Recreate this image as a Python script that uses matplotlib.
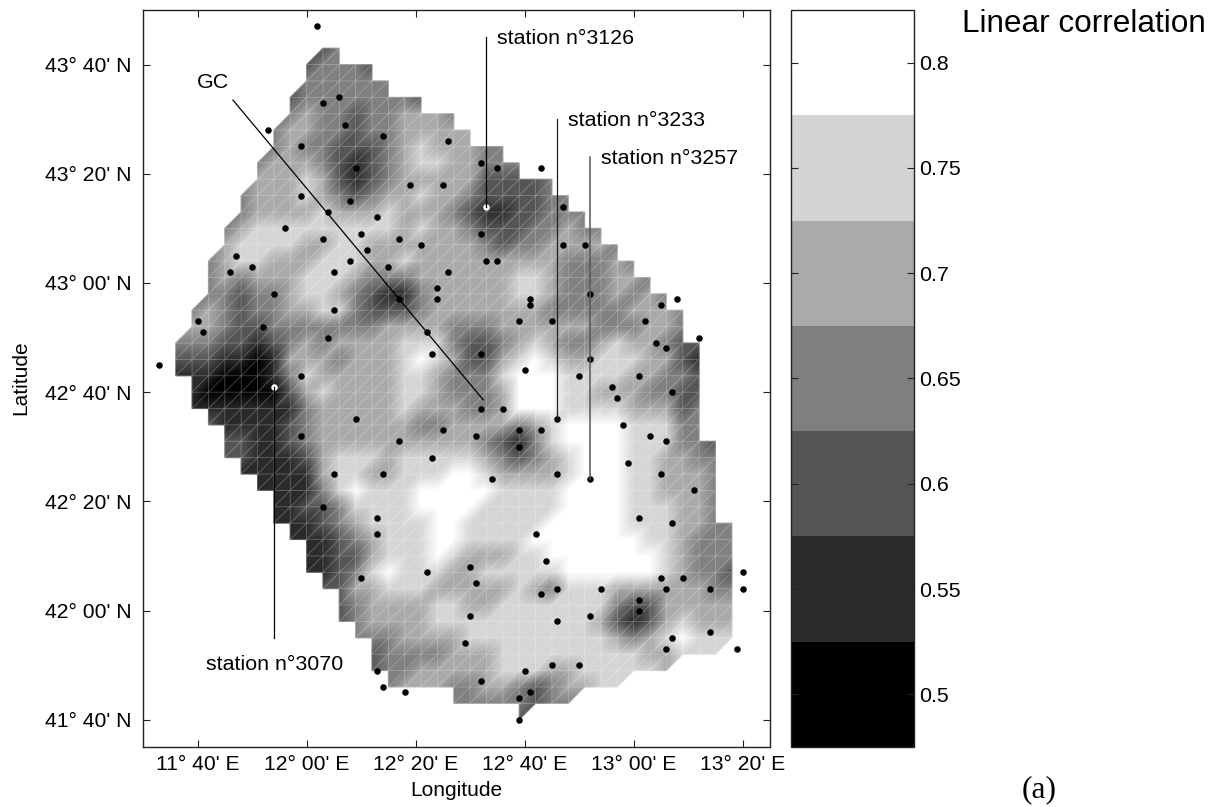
import numpy as np
import matplotlib
matplotlib.use("Agg")
import matplotlib.pyplot as plt
import matplotlib.tri as mtri
from matplotlib.colors import ListedColormap, BoundaryNorm, Normalize
from matplotlib.cm import ScalarMappable

plt.rcParams['font.family'] = ['Liberation Sans', 'DejaVu Sans']

W, H = 1225, 807

# correlation class of each grid node: the digit indexes level_values
level_values = [0.5, 0.55, 0.6, 0.65, 0.7, 0.75, 0.8]
level_colors = ['#000000', '#2b2b2b', '#555555', '#7f7f7f', '#aaaaaa', '#d4d4d4', '#ffffff']
level_labels = ['0.5', '0.55', '0.6', '0.65', '0.7', '0.75', '0.8']

# first grid column of each row, north to south (3' grid from 11 deg 36' E, 43 deg 43' N)
row_start = [9, 8, 8, 7, 7, 6, 6, 5, 5, 4, 4, 3, 3, 2, 2, 2, 1, 1, 0, 0, 0,
             1, 1, 2, 3, 3, 4, 5, 6, 6, 7, 8, 8, 9, 10, 10, 11, 12, 12, 13, 17, 21]
row_levels = [
    "23",
    "23332",
    "333333",
    "233333332",
    "34332334443",
    "3443323344444",
    "343322234544433",
    "34443212345544333",
    "4445421234444422223",
    "344454323445443222233",
    "3444454445444321122333",
    "34555555555" "4544" "3222" "33433",
    "4555544554444444323344443",
    "345544455544544444444433343",
    "3434445554" "3334444445" "54333443",
    "3323345543" "211344444" "5543334343",
    "3432334455" "3222344444" "44333334443",
    "4432233333" "3344443334" "44444333443",
    "3332212343" "4444" "55532234543345443" "22",
    "2221101444" "3444" "56542245654455544" "21",
    "1110001354" "4444" "55433356665555443" "32",
    "100000245" "4444" "55433346665544433" "22",
    "111111134" "4444" "54443346665555444" "23",
    "21111234" "4444" "43344443456666555" "33",
    "2211234" "4444" "44444321356666555" "332",
    "2211124" "5554" "55555432345666554" "433",
    "111114" "5544" "55566544445666554" "443",
    "11113" "5655" "56666655556666554" "443",
    "1122" "3555" "56666555556666555" "443",
    "1112" "3455" "55665555566666555" "4433",
    "111" "2345" "55665555666666655" "4333",
    "11" "2245" "55654445566666665" "4333",
    "11" "2356" "55544555556666665" "4332",
    "2" "2445554444" "4543555444" "44433",
    "2344445544" "5555555322" "44444",
    "2344445555" "5555554212" "45444",
    "333444455" "5555555434" "56555",
    "23333444" "5555555554" "4555",
    "23344444" "5554455555" "4",
    "3444334" "43234455",
    "33333233",
    "2",
]

# stations, in minutes east of 11 deg E and north of 41 deg N
station_lon = [62, 63, 66, 67, 74, 86, 53, 59, 69, 79, 85, 59, 68, 64, 73, 56, 63, 70, 77, 81, 71, 47,
               92, 95, 103, 107, 92, 107, 111, 93, 95,
               46, 50, 65, 68, 75, 86, 84, 84, 54, 77, 65, 40, 41, 52, 64, 82, 83, 33, 59,
               69, 85, 59, 77, 83, 65, 74, 63,
               112, 101, 101, 99, 105, 125, 128, 122, 124, 126, 132, 92, 112, 100, 110, 121, 116, 117, 127,
               92, 96, 106, 118, 99, 103, 91, 123, 126, 99, 119, 94, 106, 112, 125, 131,
               73, 73, 70, 82, 73, 74, 78,
               121, 127, 102, 104, 90, 91, 140, 125, 129, 121, 121, 103, 106, 114, 126, 134, 140,
               90, 106, 112, 89, 134, 127, 126, 139, 100, 105, 110, 92, 101, 99, 99]
station_lat = [167, 153, 154, 149, 147, 146, 148, 145, 141, 138, 138, 136, 135, 133, 132, 130, 128, 129, 128, 127, 126, 125,
               142, 141, 141, 134, 129, 127, 127, 124, 124,
               122, 123, 122, 124, 123, 122, 119, 117, 118, 117, 115, 113, 111, 112, 110, 111, 107, 105, 103,
               95, 93, 92, 91, 88, 85, 85, 79,
               118, 117, 116, 113, 113, 116, 117, 113, 109, 108, 110, 107, 106, 104, 103, 103, 101, 99, 100,
               97, 97, 95, 94, 93, 93, 92, 92, 91, 90, 87, 84, 85, 84, 85, 82,
               77, 74, 66, 67, 49, 46, 45,
               77, 76, 74, 69, 68, 65, 67, 66, 66, 62, 60, 63, 64, 64, 64, 64, 64,
               59, 58, 59, 54, 56, 55, 53, 53, 49, 50, 50, 47, 45, 44, 40]
marked_lon = [93, 54]
marked_lat = [134, 101]

# leader lines: (lon, lon), (lat, lat) in the same minutes
line_3126 = ([93, 93], [165, 134])
line_3233 = ([106, 106], [150, 95])
line_3257 = ([112, 112], [143, 84])
line_3070 = ([54, 54], [101, 55])
line_gc = ([46.5, 92.4], [153.5, 98.6])

x_ticks = [40, 60, 80, 100, 120, 140]
x_labels = ["11° 40' E", "12° 00' E", "12° 20' E", "12° 40' E", "13° 00' E", "13° 20' E"]
y_ticks = [40, 60, 80, 100, 120, 140, 160]
y_labels = ["41° 40' N", "42° 00' N", "42° 20' N", "42° 40' N", "43° 00' N", "43° 20' N", "43° 40' N"]


def frac_box(l, t, r, b):
    return [l / W, 1 - b / H, (r - l) / W, (b - t) / H]


fig = plt.figure(figsize=(W / 100, H / 100), dpi=100)
ax = fig.add_axes(frac_box(143, 10, 770, 747))
ax.set_xlim(30, 145)
ax.set_ylim(35, 170)

# node table
n_rows = len(row_levels)
n_cols = 35
node_lon = 36 + 3 * np.arange(n_cols)
node_lat = 163 - 3 * np.arange(n_rows)
ids = -np.ones((n_rows, n_cols), dtype=int)
xs, ys, zs = [], [], []
for r, (s, txt) in enumerate(zip(row_start, row_levels)):
    for k, ch in enumerate(txt):
        i = s + k
        if i >= n_cols:
            break
        ids[r, i] = len(xs)
        xs.append(node_lon[i])
        ys.append(node_lat[r])
        zs.append(level_values[int(ch)])

tris = []
for r in range(n_rows - 1):
    for i in range(n_cols - 1):
        ul, ur, ll, lr = ids[r, i], ids[r, i + 1], ids[r + 1, i], ids[r + 1, i + 1]
        if ll >= 0 and ul >= 0 and ur >= 0:
            tris.append([ll, ul, ur])
        if ll >= 0 and lr >= 0 and ur >= 0:
            tris.append([ll, lr, ur])
tri = mtri.Triangulation(xs, ys, tris)
ax.tripcolor(tri, zs, shading='gouraud', cmap='gray', norm=Normalize(0.5, 0.8), zorder=1)
ax.triplot(tri, color='white', lw=0.55, alpha=0.3, zorder=2)

ax.scatter(station_lon, station_lat, s=22, c='black', linewidths=0, zorder=3)
ax.scatter(marked_lon, marked_lat, s=22, c='white', linewidths=0, zorder=3)

ax.plot(*line_3126, color='black', lw=0.9, zorder=4)
ax.plot(*line_3233, color='#222222', lw=0.9, zorder=4)
ax.plot(*line_3257, color='#555555', lw=1.1, zorder=4)
ax.plot(*line_3070, color='black', lw=0.9, zorder=4)
ax.plot(*line_gc, color='black', lw=0.9, zorder=4)

ax.set_xticks(x_ticks, x_labels)
ax.set_yticks(y_ticks, y_labels)
ax.tick_params(axis='both', direction='in', top=True, right=True, length=5, width=0.8,
               labelsize=15.2, color='#222222')
ax.tick_params(axis='x', pad=5.5)
ax.tick_params(axis='y', pad=8.5)
for s in ax.spines.values():
    s.set_linewidth(1.0)
    s.set_color('#222222')

fig.text(456.7 / W, 1 - 790 / H, 'Longitude', fontsize=15, ha='center', va='center')
fig.text(21 / W, 1 - 378 / H, 'Latitude', fontsize=15, ha='center', va='center', rotation=90)


def label(x, y, s, **kw):
    fig.text(x / W, 1 - y / H, s, ha=kw.pop('ha', 'left'), va='center', **kw)


label(497, 38, 'station n°3126', fontsize=15.4)
label(568, 120, 'station n°3233', fontsize=15.4)
label(601, 158, 'station n°3257', fontsize=15.4)
label(206, 665, 'station n°3070', fontsize=15.4)
label(197, 82, 'GC', fontsize=15.4)
label(962, 24, 'Linear correlation', fontsize=22.7)
label(1039, 790, '(a)', fontsize=22.7, ha='center', family='Liberation Serif')

# colour bar
cax = fig.add_axes(frac_box(790.5, 10, 914, 747))
bounds = [v - 0.025 for v in level_values] + [level_values[-1] + 0.025]
sm = ScalarMappable(norm=BoundaryNorm(bounds, len(level_colors)), cmap=ListedColormap(level_colors))
cb = fig.colorbar(sm, cax=cax, ticks=level_values, spacing='proportional', drawedges=False)
cb.minorticks_off()
cb.ax.set_yticklabels(level_labels)
cb.ax.tick_params(axis='y', direction='in', left=True, right=True, length=5, width=0.8,
                  labelsize=15.4, pad=4, color='#222222')
cb.outline.set_linewidth(1.0)
cb.outline.set_edgecolor('#222222')

fig.savefig('out.png', dpi=100)
